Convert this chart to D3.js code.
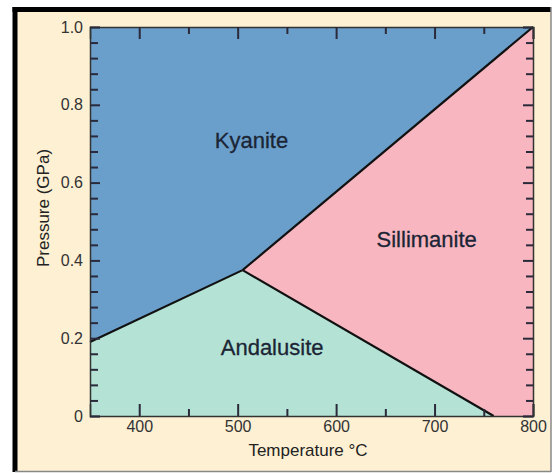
<!DOCTYPE html>
<html>
<head>
<meta charset="utf-8">
<style>
body { margin: 0; background: #fff; }
svg { display: block; font-family: "Liberation Sans", Arial, sans-serif; }
.axis path { stroke: #333; stroke-width: 1.5; }
.axis line { stroke: #2a2a3a; stroke-width: 2; }
.axis text { font-size: 16px; fill: #333; font-family: "Liberation Sans", Arial, sans-serif; }
</style>
</head>
<body>
<script src="https://d3js.org/d3.v7.min.js"></script>
<script>
const W = 553, H = 473;

// phase boundaries, [temperature °C, pressure GPa]
const kyAnd = [[350, 0.19], [505, 0.375]];
const kySil = [[505, 0.375], [800, 1.0]];
const andSil = [[505, 0.375], [760, 0]];

const phases = ['Kyanite', 'Sillimanite', 'Andalusite'];
const phaseColors = ['#6b9fcb', '#f8b6c0', '#b4e3d6'];
const labelPos = [[514, 0.689], [692, 0.434], [535, 0.157]];

const xMajor = [400, 500, 600, 700, 800];
const xMinor = [450, 550, 650, 750];
const yMajor = [0, 0.2, 0.4, 0.6, 0.8, 1.0];
const yMinor = d3.range(0.04, 1.0, 0.04).filter(v => Math.abs(v * 5 - Math.round(v * 5)) > 1e-6);

const svg = d3.select('body').append('svg')
    .attr('width', W)
    .attr('height', H);

// frame
svg.append('rect')
    .attr('x', 15).attr('y', 9.5)
    .attr('width', 536).attr('height', 462)
    .attr('fill', '#fdf0d3');
svg.append('line').attr('x1', 15).attr('y1', 7).attr('x2', 15).attr('y2', 472)
    .attr('stroke', '#000').attr('stroke-width', 5);
svg.append('line').attr('x1', 12.5).attr('y1', 9.5).attr('x2', 551).attr('y2', 9.5)
    .attr('stroke', '#000').attr('stroke-width', 5);
svg.append('line').attr('x1', 551).attr('y1', 7).attr('x2', 551).attr('y2', 472)
    .attr('stroke', '#888').attr('stroke-width', 1.5);
svg.append('line').attr('x1', 15).attr('y1', 471.5).attr('x2', 551).attr('y2', 471.5)
    .attr('stroke', '#888').attr('stroke-width', 1.5);

const x = d3.scaleLinear().domain([350, 800]).range([90, 533]);
const y = d3.scaleLinear().domain([0, 1]).range([416, 27]);

const tp = kyAnd[1];
const regions = [
    [[350, 1], [800, 1], kySil[1], tp, kyAnd[0]],
    [tp, kySil[1], [800, 0], andSil[1]],
    [kyAnd[0], tp, andSil[1], [350, 0]]
];

const line = d3.line().x(d => x(d[0])).y(d => y(d[1]));

svg.append('g').selectAll('path')
    .data(regions)
  .enter().append('path')
    .attr('d', d => line(d) + 'Z')
    .attr('fill', (d, i) => phaseColors[i]);

svg.append('g').selectAll('path')
    .data([kyAnd, kySil, andSil])
  .enter().append('path')
    .attr('d', line)
    .attr('fill', 'none')
    .attr('stroke', '#111')
    .attr('stroke-width', 2.2);

svg.append('g').selectAll('text')
    .data(phases)
  .enter().append('text')
    .attr('x', (d, i) => x(labelPos[i][0]))
    .attr('y', (d, i) => y(labelPos[i][1]))
    .attr('text-anchor', 'middle')
    .attr('font-size', 22)
    .attr('fill', '#1b2535')
    .attr('stroke', '#1b2535')
    .attr('stroke-width', 0.3)
    .text(d => d);

// axes (ticks point inward)
const fmtY = d => d === 0 ? '0' : d3.format('.1f')(d);

svg.append('g').attr('class', 'axis')
    .attr('transform', `translate(0,${y(0)})`)
    .call(d3.axisBottom(x).tickValues(xMajor).tickSize(-12).tickPadding(5));
svg.append('g').attr('class', 'axis')
    .attr('transform', `translate(0,${y(0)})`)
    .call(d3.axisBottom(x).tickValues(xMinor).tickSize(-7).tickFormat(''))
    .call(g => g.select('.domain').remove());

svg.append('g').attr('class', 'axis')
    .attr('transform', `translate(0,${y(1)})`)
    .call(d3.axisTop(x).tickValues(xMajor).tickSize(-12).tickFormat(''));
svg.append('g').attr('class', 'axis')
    .attr('transform', `translate(0,${y(1)})`)
    .call(d3.axisTop(x).tickValues(xMinor).tickSize(-7).tickFormat(''))
    .call(g => g.select('.domain').remove());

svg.append('g').attr('class', 'axis')
    .attr('transform', `translate(${x(350)},0)`)
    .call(d3.axisLeft(y).tickValues(yMajor).tickSize(-10).tickPadding(7).tickFormat(fmtY));
svg.append('g').attr('class', 'axis')
    .attr('transform', `translate(${x(350)},0)`)
    .call(d3.axisLeft(y).tickValues(yMinor).tickSize(-8).tickFormat(''))
    .call(g => g.select('.domain').remove());

svg.append('g').attr('class', 'axis')
    .attr('transform', `translate(${x(800)},0)`)
    .call(d3.axisRight(y).tickValues(yMajor).tickSize(-10).tickFormat(''));
svg.append('g').attr('class', 'axis')
    .attr('transform', `translate(${x(800)},0)`)
    .call(d3.axisRight(y).tickValues(yMinor).tickSize(-7).tickFormat(''))
    .call(g => g.select('.domain').remove());

svg.selectAll('.axis .domain').attr('stroke', '#333');

// axis titles
svg.append('text')
    .attr('x', 308).attr('y', 456)
    .attr('text-anchor', 'middle')
    .attr('font-size', 17)
    .attr('fill', '#222')
    .text('Temperature °C');

svg.append('text')
    .attr('transform', 'translate(49,208) rotate(-90)')
    .attr('text-anchor', 'middle')
    .attr('font-size', 17)
    .attr('fill', '#222')
    .text('Pressure (GPa)');
</script>
</body>
</html>
